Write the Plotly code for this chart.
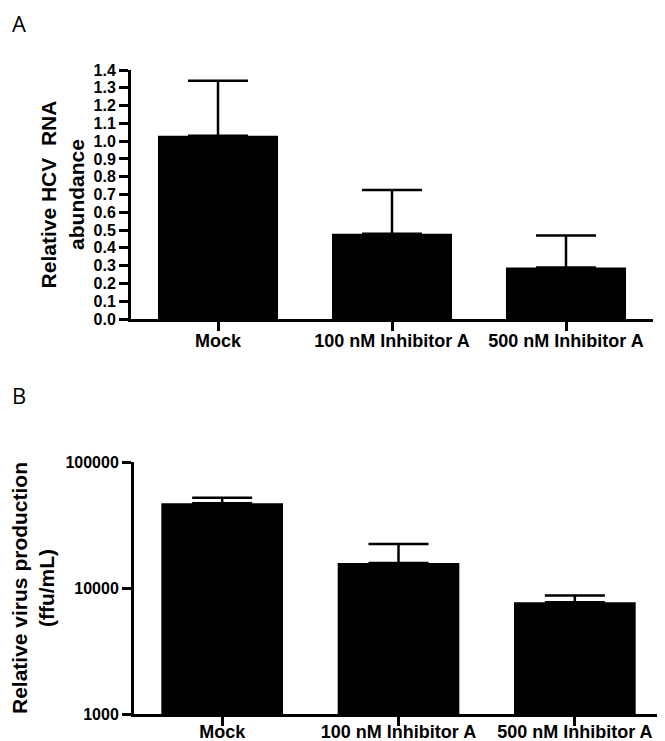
import plotly.graph_objects as go

# ---- data ----
categories = ["Mock", "100 nM Inhibitor A", "500 nM Inhibitor A"]

rna_mean = [1.03, 0.48, 0.29]
rna_err = [0.31, 0.245, 0.18]

virus_mean = [47000, 15800, 7700]
virus_err = [5000, 6500, 1000]

rna_ticks = [0.0, 0.1, 0.2, 0.3, 0.4, 0.5, 0.6, 0.7, 0.8, 0.9, 1.0, 1.1, 1.2, 1.3, 1.4]
virus_ticks = [1000, 10000, 100000]
virus_tick_labels = ["1000", "10000", "100000"]

# page body has an 8px margin: size the figure to fit the window
OFF = 8
W, H = 665 - OFF, 741 - OFF
FONT = "Liberation Sans, Arial, sans-serif"
BLACK = "#000000"


def px_x(a, b):
    return [(a - OFF) / W, (b - OFF) / W]


def px_y(top, bottom):
    return [1 - (bottom - OFF) / H, 1 - (top - OFF) / H]


fig = go.Figure()

fig.add_trace(go.Bar(
    x=categories, y=rna_mean, width=0.69,
    marker=dict(color=BLACK, line=dict(width=0)),
    error_y=dict(type="data", symmetric=False, array=rna_err,
                 arrayminus=[0] * len(rna_err),
                 color=BLACK, thickness=2.5, width=30),
    xaxis="x", yaxis="y", showlegend=False,
))

fig.add_trace(go.Bar(
    x=categories, y=virus_mean, width=0.69,
    marker=dict(color=BLACK, line=dict(width=0)),
    error_y=dict(type="data", symmetric=False, array=virus_err,
                 arrayminus=[0] * len(virus_err),
                 color=BLACK, thickness=2.5, width=30),
    xaxis="x2", yaxis="y2", showlegend=False,
))

tickfont = dict(family=FONT, size=16, color=BLACK, weight="bold")
catfont = dict(family=FONT, size=18, color=BLACK, weight="bold")
titlefont = dict(family=FONT, size=21, color=BLACK, weight="bold")

axis_common = dict(showline=True, linewidth=3, linecolor=BLACK,
                   ticks="outside", ticklen=9, tickwidth=2.5, tickcolor=BLACK,
                   showgrid=False, zeroline=False, mirror=False,
                   automargin=False)

fig.update_layout(
    width=W, height=H,
    margin=dict(l=0, r=0, t=0, b=0, autoexpand=False),
    paper_bgcolor="white", plot_bgcolor="white",
    xaxis=dict(domain=px_x(131, 653), anchor="y", range=[-0.5, 2.5],
               tickfont=catfont, ticklabelstandoff=-6, **axis_common),
    yaxis=dict(domain=px_y(70, 319), anchor="x", range=[0, 1.4],
               tickvals=rna_ticks, tickformat=".1f", tickfont=tickfont,
               title=dict(text="Relative HCV&nbsp; RNA<br>abundance",
                          font=titlefont, standoff=4),
               **axis_common),
    xaxis2=dict(domain=px_x(134, 663), anchor="y2", range=[-0.5, 2.5],
                tickfont=catfont, ticklabelstandoff=-10, **axis_common),
    yaxis2=dict(domain=px_y(462, 714), anchor="x2", type="log", range=[3, 5],
                tickvals=virus_ticks, ticktext=virus_tick_labels,
                tickfont=tickfont,
                title=dict(text="Relative virus production<br>(ffu/mL)",
                           font=titlefont, standoff=10),
                **axis_common),
    annotations=[
        dict(text="A", x=(10 - OFF) / W, y=1 - (6 - OFF) / H,
             xref="paper", yref="paper",
             xanchor="left", yanchor="top", showarrow=False,
             font=dict(family="Open Sans, sans-serif", size=22, color=BLACK)),
        dict(text="B", x=(10 - OFF) / W, y=1 - (378 - OFF) / H,
             xref="paper", yref="paper",
             xanchor="left", yanchor="top", showarrow=False,
             font=dict(family="Open Sans, sans-serif", size=22, color=BLACK)),
    ],
)

fig.write_html("out.html")
